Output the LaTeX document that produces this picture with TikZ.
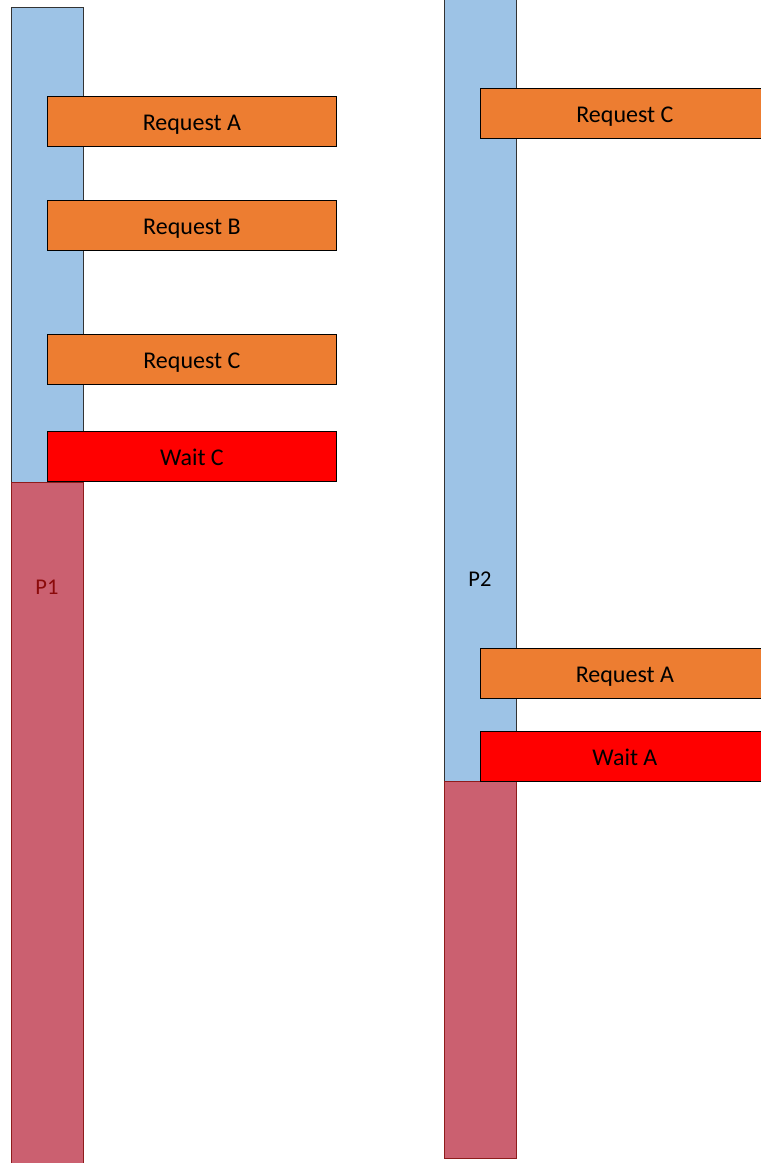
\documentclass[tikz,border=0pt]{standalone}
\usepackage{fontspec}
\setmainfont{Carlito}
\definecolor{runblue}{HTML}{9DC3E6}
\definecolor{blockred}{HTML}{CB6070}
\definecolor{blockedge}{HTML}{8E1C1C}
\definecolor{reqorange}{HTML}{ED7D31}
\definecolor{waitred}{HTML}{FF0000}
\definecolor{labelred}{HTML}{8B0A0A}
\begin{document}
\begin{tikzpicture}[x=1pt,y=-1pt,
  seg/.style={draw, line width=0.8pt, anchor=north west, inner sep=0pt, minimum width=72pt},
  running/.style={seg, fill=runblue, draw=black!80},
  blocked/.style={seg, fill=blockred, draw=blockedge},
  call/.style={draw=black, line width=0.8pt, anchor=north west, inner sep=0pt,
    minimum width=289pt, minimum height=50pt, text height=18pt, text depth=0pt,
    font=\fontsize{24}{27}\selectfont, text=black},
  request/.style={call, fill=reqorange},
  waitbox/.style={call, fill=waitred},
  plabel/.style={font=\fontsize{22.5}{26}\selectfont}]
\useasboundingbox (0,0) rectangle (761,1163);

% process P1 timeline
\node[running, minimum height=475pt] (p1run) at (11,7) {};
\node[blocked, minimum height=690pt] (p1wait) at (11,482) {};
\node[plabel, text=labelred] (p1label) at (47,587) {P1};

% process P2 timeline
\node[running, minimum height=791pt] (p2run) at (444,-10) {};
\node[blocked, minimum height=377pt] (p2wait) at (444,781) {};
\node[plabel] (p2label) at (480,579) {P2};

% calls made by P1
\node[request] (p1a) at (47,96) {Request A};
\node[request] (p1b) at (47,200) {Request B};
\node[request] (p1c) at (47,334) {Request C};
\node[waitbox] (p1w) at (47,431) {Wait C};

% calls made by P2 (running past the right edge)
\node[request] (p2c) at (480,88) {Request C};
\node[request] (p2a) at (480,648) {Request A};
\node[waitbox] (p2w) at (480,731) {Wait A};
\end{tikzpicture}
\end{document}
